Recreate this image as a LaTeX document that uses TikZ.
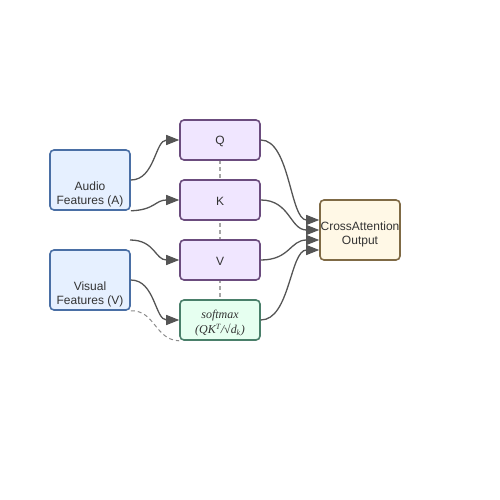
\documentclass[tikz,border=0pt]{standalone}
\usepackage{fontspec}
\setmainfont{Liberation Sans}
\newfontfamily\serifit{Liberation Serif}
\usetikzlibrary{arrows.meta,calc}
\definecolor{featfill}{HTML}{E6F0FF}
\definecolor{featdraw}{HTML}{4A6FA5}
\definecolor{qkvfill}{HTML}{F0E6FF}
\definecolor{qkvdraw}{HTML}{6B4C7E}
\definecolor{smfill}{HTML}{E6FFF0}
\definecolor{smdraw}{HTML}{4A7F6A}
\definecolor{cafill}{HTML}{FFF8E6}
\definecolor{cadraw}{HTML}{7F6A45}
\definecolor{edge}{HTML}{555555}
\definecolor{txtc}{HTML}{333333}
\tikzset{
  box/.style={rounded corners=4pt, line width=1.6pt, minimum width=80pt, minimum height=40pt, inner sep=0pt},
  feat/.style={box, fill=featfill, draw=featdraw, minimum height=60pt},
  qkv/.style={box, fill=qkvfill, draw=qkvdraw},
  sm/.style={box, fill=smfill, draw=smdraw},
  ca/.style={box, fill=cafill, draw=cadraw, minimum height=60pt},
  txt/.style={text=txtc, font=\fontsize{12}{14}\selectfont, align=center, inner sep=0pt},
  link/.style={draw=edge, line width=1.3pt, -{Triangle[length=13pt,width=10pt]}},
  guide/.style={draw=black!35, line width=1.2pt, dash pattern=on 4pt off 3pt},
  soft/.style={draw=black!45, line width=1pt, dash pattern=on 4pt off 3pt}
}
\begin{document}
\begin{tikzpicture}[x=1pt,y=-1pt]
\useasboundingbox (0,0) rectangle (500,500);
% guides
\coordinate (gq) at (220,160);
\coordinate (gs) at (220,300);
\draw[guide] (gq) -- (gs);
% nodes
\node[feat] (audio) at (90,180) {};
\node[txt] (audiot) at (90,194) {Audio\\Features (A)};
\node[feat] (visual) at (90,280) {};
\node[txt] (visualt) at (90,294) {Visual\\Features (V)};
\node[qkv] (q) at (220,140) {};
\node[txt] (qt) at (220,141) {Q};
\node[qkv] (k) at (220,200) {};
\node[txt] (kt) at (220,201) {K};
\node[qkv] (v) at (220,260) {};
\node[txt] (vt) at (220,261) {V};
\node[sm] (soft) at (220,320) {};
\node[txt, font=\fontsize{12}{15}\selectfont\serifit\itshape] (softt) at (220,323) {softmax\\(QK\textsuperscript{T}/√d\textsubscript{k})};
\node[ca] (ca) at (360,230) {};
\node[txt] (cat) at (360,234) {CrossAttention\\Output};
% free start
\coordinate (vin) at (130,240);
% edges into Q K V softmax
\draw[link] (audio.east) .. controls (155,180) and (155,140) .. (q.west);
\draw[link] (audio.south east) .. controls (155,210) and (155,200) .. (k.west);
\draw[link] (vin) .. controls (155,240) and (155,260) .. (v.west);
\draw[link] (visual.east) .. controls (155,280) and (155,320) .. (soft.west);
\draw[soft] (visual.south east) .. controls (155,310) and (155,340) .. (soft.south west);
% edges into CA
\coordinate (ca1) at ($(ca.west)+(0,-10)$);
\coordinate (ca2) at (ca.west);
\coordinate (ca3) at ($(ca.west)+(0,10)$);
\coordinate (ca4) at ($(ca.west)+(0,20)$);
\draw[link] (q.east) .. controls (290,140) and (290,220) .. (ca1);
\draw[link] (k.east) .. controls (290,200) and (290,230) .. (ca2);
\draw[link] (v.east) .. controls (290,260) and (290,240) .. (ca3);
\draw[link] (soft.east) .. controls (290,320) and (290,250) .. (ca4);
\end{tikzpicture}
\end{document}
